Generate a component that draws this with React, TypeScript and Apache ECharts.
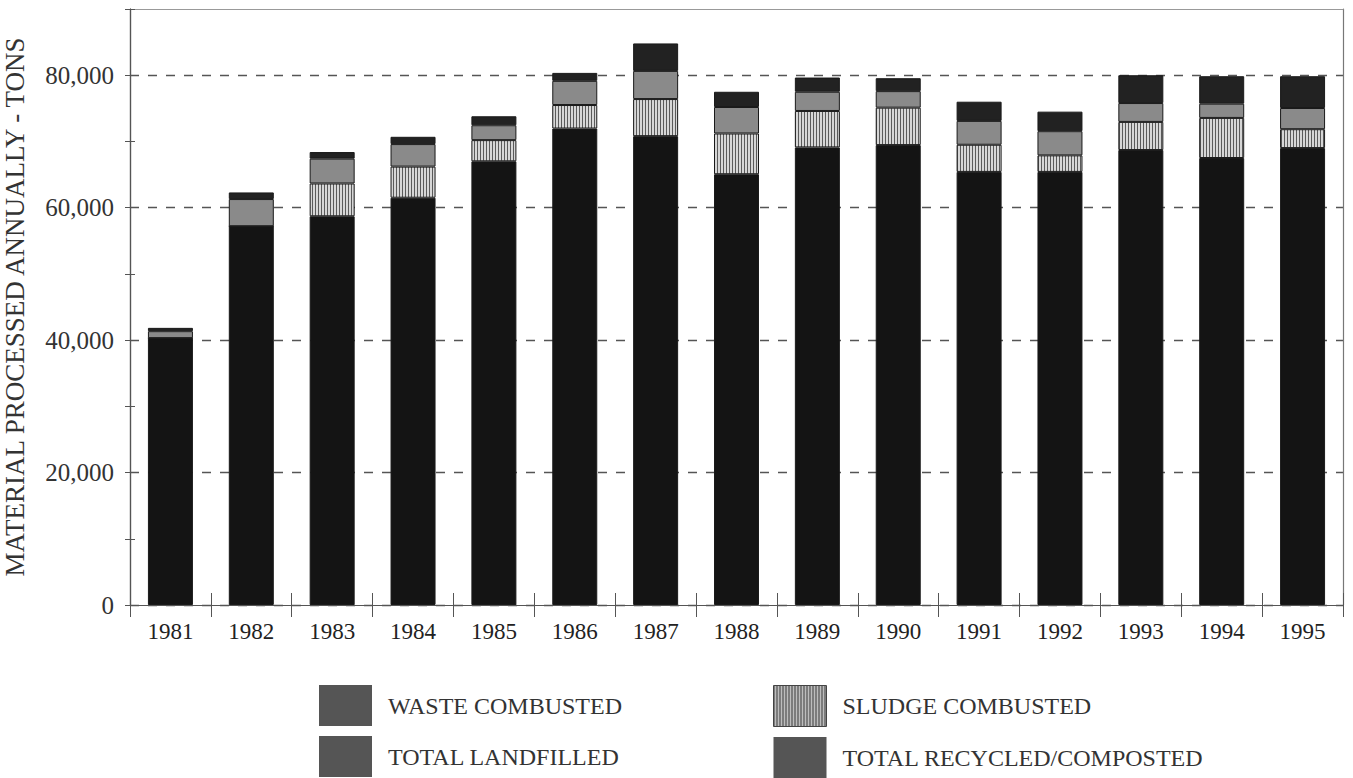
import React, { useEffect, useRef } from "react";
import * as echarts from "echarts";

const years = ["1981","1982","1983","1984","1985","1986","1987","1988","1989","1990","1991","1992","1993","1994","1995"];
const wasteCombusted = [40300, 57200, 58700, 61500, 67000, 71950, 70800, 65050, 69100, 69450, 65400, 65400, 68700, 67500, 69000];
const sludgeCombusted = [0, 0, 4950, 4700, 3200, 3550, 5600, 6150, 5500, 5650, 4100, 2500, 4250, 6050, 2850];
const totalLandfilled = [1050, 4100, 3750, 3400, 2250, 3650, 4250, 4000, 2900, 2500, 3600, 3650, 2850, 2150, 3200];
const totalRecycled = [500, 1000, 1000, 1100, 1350, 1200, 4150, 2300, 2150, 1950, 2900, 2950, 4200, 4150, 4800];
const yTickLabels = ["0", "20,000", "40,000", "60,000", "80,000"];

const FONT = '"Liberation Serif", "DejaVu Serif", serif';

function makePattern(bg: string, fg: string, w: number, h: number) {
  const c = document.createElement("canvas");
  c.width = w;
  c.height = h;
  const ctx = c.getContext("2d")!;
  ctx.fillStyle = bg;
  ctx.fillRect(0, 0, w, h);
  ctx.fillStyle = fg;
  ctx.fillRect(0, 0, 1, h);
  return c;
}

export default function App() {
  const ref = useRef<HTMLDivElement>(null);
  useEffect(() => {
    if (!ref.current) return;
    const chart = echarts.init(ref.current, undefined, { renderer: "svg" });
    const stripe = { image: makePattern("#d6d6d6", "#5a5a5a", 3, 4), repeat: "repeat" } as any;
    const stripeLegend = { image: makePattern("#bdbdbd", "#3a3a3a", 3, 4), repeat: "repeat" } as any;
    const fmtY = (v: number) => {
      const i = v / 20000;
      return Number.isInteger(i) && i < yTickLabels.length ? yTickLabels[i] : "";
    };
    const bar = (name: string, data: number[], color: any) => ({
      name,
      type: "bar",
      stack: "total",
      data,
      barWidth: 45,
      xAxisIndex: 0,
      yAxisIndex: 0,
      itemStyle: { color, borderColor: "#1a1a1a", borderWidth: 1 },
    });
    const legendText = { fontFamily: FONT, fontSize: 24, color: "#333", padding: [0, 0, 0, 11] };
    const legendBase = {
      orient: "vertical",
      top: 685,
      padding: 0,
      itemWidth: 53,
      itemHeight: 41,
      itemGap: 10,
      icon: "rect",
      textStyle: legendText,
      selectedMode: false,
    };
    chart.setOption({
      animation: false,
      backgroundColor: "#ffffff",
      grid: { left: 130, right: 10, top: 9, bottom: 173, containLabel: false, outerBoundsMode: "none" },
      legend: [
        {
          ...legendBase,
          left: 319,
          data: [
            { name: "WASTE COMBUSTED", itemStyle: { color: "#555", borderWidth: 0 } },
            { name: "TOTAL LANDFILLED", itemStyle: { color: "#555", borderWidth: 0 } },
          ],
        },
        {
          ...legendBase,
          left: 773,
          data: [
            { name: "SLUDGE COMBUSTED", itemStyle: { color: stripeLegend, borderColor: "#444", borderWidth: 1 } },
            { name: "TOTAL RECYCLED/COMPOSTED", itemStyle: { color: "#555", borderWidth: 0 } },
          ],
        },
      ],
      xAxis: [
        {
          type: "category",
          data: years,
          position: "bottom",
          axisLine: { onZero: false, lineStyle: { color: "#555", width: 1.2 } },
          axisTick: { show: true, length: 12, lineStyle: { color: "#555" } },
          axisLabel: { fontFamily: FONT, fontSize: 23, color: "#222", margin: 15 },
        },
        {
          type: "category",
          data: years,
          position: "bottom",
          axisLine: { show: true, onZero: false, lineStyle: { color: "#555", width: 1.2 } },
          axisTick: { show: true, inside: true, length: 12, lineStyle: { color: "#555" } },
          axisLabel: { show: false },
        },
        {
          type: "category",
          data: years,
          position: "top",
          axisLine: { show: true, onZero: false, lineStyle: { color: "#999", width: 1.2 } },
          axisTick: { show: false },
          axisLabel: { show: false },
        },
      ],
      yAxis: [
        {
          type: "value",
          min: 0,
          max: 90000,
          interval: 10000,
          position: "left",
          name: "MATERIAL PROCESSED ANNUALLY - TONS",
          nameLocation: "middle",
          nameGap: 102,
          nameTextStyle: { fontFamily: FONT, fontSize: 27, color: "#333" },
          axisLine: { show: true, onZero: false, lineStyle: { color: "#555", width: 1.2 } },
          axisTick: { show: true, length: 5, lineStyle: { color: "#555" } },
          axisLabel: { fontFamily: FONT, fontSize: 25, color: "#333", margin: 16, formatter: fmtY },
          splitLine: {
            show: true,
            lineStyle: { color: ["#555", "rgba(0,0,0,0)"], type: [9, 9], width: 1.4 },
          },
        },
        {
          type: "value",
          min: 0,
          max: 90000,
          interval: 10000,
          position: "left",
          axisLine: { show: true, onZero: false, lineStyle: { color: "#555", width: 1.2 } },
          axisTick: { show: true, inside: true, length: 5, lineStyle: { color: "#555" } },
          axisLabel: { show: false },
          splitLine: { show: false },
        },
        {
          type: "value",
          min: 0,
          max: 90000,
          interval: 10000,
          position: "right",
          axisLine: { show: true, onZero: false, lineStyle: { color: "#777", width: 1.2 } },
          axisTick: { show: false },
          axisLabel: { show: false },
          splitLine: { show: false },
        },
      ],
      series: [
        bar("WASTE COMBUSTED", wasteCombusted, "#141414"),
        bar("SLUDGE COMBUSTED", sludgeCombusted, stripe),
        bar("TOTAL LANDFILLED", totalLandfilled, "#8a8a8a"),
        bar("TOTAL RECYCLED/COMPOSTED", totalRecycled, "#222222"),
      ],
    });
    return () => chart.dispose();
  }, []);
  return (
    <div
      ref={ref}
      style={{ position: "fixed", left: 0, top: 0, width: 1353, height: 778, background: "#fff" }}
    />
  );
}
